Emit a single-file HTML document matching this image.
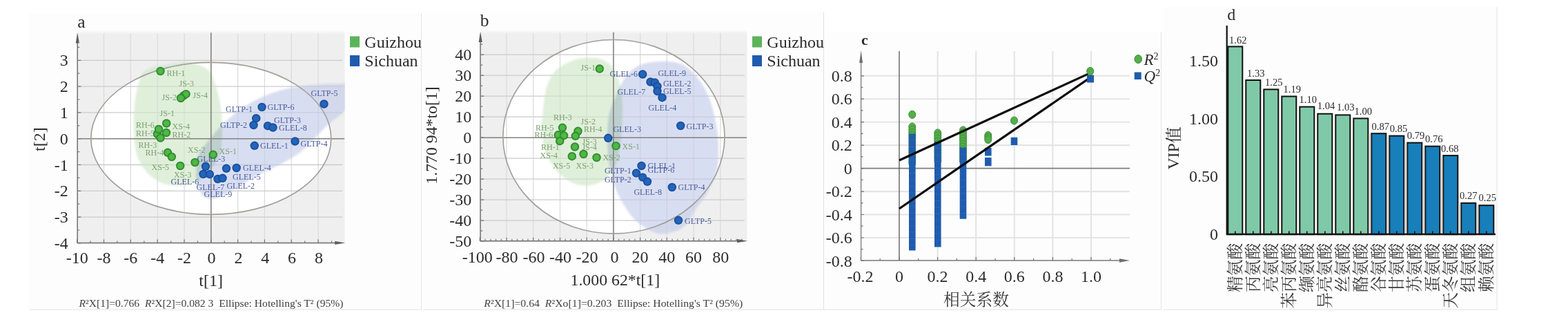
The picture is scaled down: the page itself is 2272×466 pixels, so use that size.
<!DOCTYPE html>
<html><head><meta charset="utf-8"><title>figure</title>
<style>
html,body{margin:0;padding:0;background:#fff;overflow:hidden}
svg{display:block;filter:blur(0.45px)}
text{font-family:"Liberation Serif","Noto Serif CJK SC",serif;fill:#2b2b2b}
.tk{font-size:24px}
.lb{font-size:12px}
.vl{font-size:15px;fill:#444}
.cap{font-size:14.6px;fill:#404040}
.cj{font-size:23.7px;fill:#3a3a3a}
</style></head><body>
<svg width="2272" height="466" viewBox="0 0 2272 466">
<defs>
<filter id="soft" x="-10%" y="-10%" width="120%" height="120%"><feGaussianBlur stdDeviation="1.6"/></filter>
<filter id="b05" x="-5%" y="-5%" width="110%" height="110%"><feGaussianBlur stdDeviation="0.55"/></filter>
<radialGradient id="gd" cx="50%" cy="50%" r="50%"><stop offset="0" stop-color="#55bb4a"/><stop offset="0.6" stop-color="#4db444"/><stop offset="0.8" stop-color="#2f8f2f"/><stop offset="1" stop-color="#2b842c"/></radialGradient>
<radialGradient id="bd" cx="50%" cy="50%" r="50%"><stop offset="0" stop-color="#2567bd"/><stop offset="0.6" stop-color="#2263b8"/><stop offset="0.82" stop-color="#1a4f9f"/><stop offset="1" stop-color="#184a98"/></radialGradient>
<linearGradient id="ft" x1="0" y1="0" x2="0" y2="1"><stop offset="0" stop-color="#fff" stop-opacity="1"/><stop offset="1" stop-color="#fff" stop-opacity="0"/></linearGradient>
<linearGradient id="fr" x1="1" y1="0" x2="0" y2="0"><stop offset="0" stop-color="#fff" stop-opacity="1"/><stop offset="1" stop-color="#fff" stop-opacity="0"/></linearGradient>
</defs>
<rect x="-5" y="-5" width="2282" height="476" fill="#fff"/>
<g fill="#fdfdfd">
<rect x="43" y="19" width="567" height="429"/>
<rect x="613" y="18" width="580.5" height="430"/>
<rect x="1194" y="45.5" width="488.5" height="402.5"/>
<rect x="1686" y="10" width="483" height="438"/>
</g>
<g stroke="#e2e2e2" stroke-width="1" fill="none">
<path d="M43 448H610.5V19"/>
<path d="M613 448H1193.5V18"/>
<path d="M1194 448H1682.5V46"/>
<path d="M1686 448H2169V10"/>
</g>
<g>
<rect x="112.3" y="43.3" width="387.9" height="308.2" fill="#efefef"/>
<ellipse cx="305.8" cy="200.4" rx="174.0" ry="110.0" fill="#fff"/>
<rect x="111.3" y="42.3" width="390.9" height="7.5" fill="url(#ft)"/>
<rect x="498.7" y="42.3" width="2" height="309.2" fill="url(#fr)"/>
<g stroke="#dcdcdc" stroke-width="1.3">
<line x1="111.7" y1="48.3" x2="111.7" y2="351.5"/>
<line x1="150.5" y1="48.3" x2="150.5" y2="351.5"/>
<line x1="189.3" y1="48.3" x2="189.3" y2="351.5"/>
<line x1="228.2" y1="48.3" x2="228.2" y2="351.5"/>
<line x1="267.0" y1="48.3" x2="267.0" y2="351.5"/>
<line x1="344.6" y1="48.3" x2="344.6" y2="351.5"/>
<line x1="383.4" y1="48.3" x2="383.4" y2="351.5"/>
<line x1="422.3" y1="48.3" x2="422.3" y2="351.5"/>
<line x1="461.1" y1="48.3" x2="461.1" y2="351.5"/>
<line x1="112.3" y1="351.9" x2="496.2" y2="351.9" stroke="#cbcbcb"/>
<line x1="112.3" y1="314.1" x2="496.2" y2="314.1" stroke="#cbcbcb"/>
<line x1="112.3" y1="276.3" x2="496.2" y2="276.3" stroke="#cbcbcb"/>
<line x1="112.3" y1="238.5" x2="496.2" y2="238.5" stroke="#cbcbcb"/>
<line x1="112.3" y1="162.9" x2="496.2" y2="162.9" stroke="#cbcbcb"/>
<line x1="112.3" y1="125.1" x2="496.2" y2="125.1" stroke="#cbcbcb"/>
<line x1="112.3" y1="87.3" x2="496.2" y2="87.3" stroke="#cbcbcb"/>
</g>
<clipPath id="cpa"><rect x="112.3" y="43.3" width="387.4" height="308.2"/></clipPath>
<path d="M211.2 101.5C218.1 96.8 231.8 95.0 242.1 93.2C252.4 91.4 263.1 89.3 273.0 90.6C282.9 91.9 294.9 95.8 301.4 100.9C307.8 106.1 308.7 112.9 311.7 121.5C314.7 130.1 317.7 141.2 319.4 152.4C321.1 163.6 322.0 177.3 322.0 188.5C322.0 199.7 321.5 210.8 319.4 219.4C317.2 228.0 314.2 233.1 309.1 240.0C304.0 246.9 296.2 255.9 288.5 260.6C280.8 265.3 271.3 267.5 262.7 268.4C254.1 269.3 245.2 268.8 237.0 265.8C228.8 262.8 220.2 257.2 213.8 250.3C207.4 243.4 201.6 234.9 198.3 224.6C195.0 214.3 194.8 200.5 194.2 188.5C193.6 176.5 193.9 163.6 195.0 152.4C196.1 141.2 197.8 130.0 200.5 121.5C203.2 113.0 204.3 106.2 211.2 101.5Z" fill="#fff" opacity="0.6" filter="url(#soft)" clip-path="url(#cpa)"/>
<path d="M293.6 214.3C299.7 206.7 312.6 189.4 324.6 178.2C336.6 167.0 351.2 155.5 365.8 147.3C380.4 139.1 396.7 133.3 412.1 129.2C427.6 125.1 445.6 123.8 458.5 122.5C471.4 121.2 481.5 121.4 489.4 121.5C497.3 121.6 502.9 118.2 506.0 123.0C509.1 127.8 509.5 143.3 508.0 150.0C506.5 156.7 502.0 158.3 497.0 163.0C492.0 167.7 484.5 172.2 478.0 178.0C471.5 183.8 464.7 191.3 458.0 198.0C451.3 204.7 446.0 211.7 438.0 218.0C430.0 224.3 420.3 230.3 410.0 236.0C399.7 241.7 387.8 245.8 376.1 252.0C364.4 258.2 350.3 267.8 340.0 273.5C329.7 279.2 321.6 284.5 314.3 286.4C307.0 288.3 300.9 288.0 296.2 284.8C291.5 281.6 287.9 274.5 285.9 267.0C283.9 259.5 284.0 247.2 284.4 240.0C284.8 232.8 286.5 228.3 288.0 224.0C289.5 219.7 287.5 221.9 293.6 214.3Z" fill="#fff" opacity="0.6" filter="url(#soft)" clip-path="url(#cpa)"/>
<path d="M211.2 101.5C218.1 96.8 231.8 95.0 242.1 93.2C252.4 91.4 263.1 89.3 273.0 90.6C282.9 91.9 294.9 95.8 301.4 100.9C307.8 106.1 308.7 112.9 311.7 121.5C314.7 130.1 317.7 141.2 319.4 152.4C321.1 163.6 322.0 177.3 322.0 188.5C322.0 199.7 321.5 210.8 319.4 219.4C317.2 228.0 314.2 233.1 309.1 240.0C304.0 246.9 296.2 255.9 288.5 260.6C280.8 265.3 271.3 267.5 262.7 268.4C254.1 269.3 245.2 268.8 237.0 265.8C228.8 262.8 220.2 257.2 213.8 250.3C207.4 243.4 201.6 234.9 198.3 224.6C195.0 214.3 194.8 200.5 194.2 188.5C193.6 176.5 193.9 163.6 195.0 152.4C196.1 141.2 197.8 130.0 200.5 121.5C203.2 113.0 204.3 106.2 211.2 101.5Z" fill="#e0efda" filter="url(#soft)" clip-path="url(#cpa)" style="mix-blend-mode:multiply"/>
<path d="M293.6 214.3C299.7 206.7 312.6 189.4 324.6 178.2C336.6 167.0 351.2 155.5 365.8 147.3C380.4 139.1 396.7 133.3 412.1 129.2C427.6 125.1 445.6 123.8 458.5 122.5C471.4 121.2 481.5 121.4 489.4 121.5C497.3 121.6 502.9 118.2 506.0 123.0C509.1 127.8 509.5 143.3 508.0 150.0C506.5 156.7 502.0 158.3 497.0 163.0C492.0 167.7 484.5 172.2 478.0 178.0C471.5 183.8 464.7 191.3 458.0 198.0C451.3 204.7 446.0 211.7 438.0 218.0C430.0 224.3 420.3 230.3 410.0 236.0C399.7 241.7 387.8 245.8 376.1 252.0C364.4 258.2 350.3 267.8 340.0 273.5C329.7 279.2 321.6 284.5 314.3 286.4C307.0 288.3 300.9 288.0 296.2 284.8C291.5 281.6 287.9 274.5 285.9 267.0C283.9 259.5 284.0 247.2 284.4 240.0C284.8 232.8 286.5 228.3 288.0 224.0C289.5 219.7 287.5 221.9 293.6 214.3Z" fill="#d8def1" filter="url(#soft)" clip-path="url(#cpa)" style="mix-blend-mode:multiply"/>
<line x1="305.8" y1="47.3" x2="305.8" y2="351.5" stroke="#84817f" stroke-width="1.6"/>
<line x1="112.3" y1="200.7" x2="499.2" y2="200.7" stroke="#84817f" stroke-width="1.6"/>
<ellipse cx="305.8" cy="200.4" rx="174.0" ry="110.0" fill="none" stroke="#a39f9c" stroke-width="1.7"/>
<g stroke="#747474" stroke-width="1.4" fill="none">
<path d="M112.3 57.5V351.5H492.2"/>
<path d="M111.7 351.5v-5M150.5 351.5v-5M189.3 351.5v-5M228.2 351.5v-5M267.0 351.5v-5M305.8 351.5v-5M344.6 351.5v-5M383.4 351.5v-5M422.3 351.5v-5M461.1 351.5v-5M131.1 351.5v-3M169.9 351.5v-3M208.8 351.5v-3M247.6 351.5v-3M286.4 351.5v-3M325.2 351.5v-3M364.0 351.5v-3M402.9 351.5v-3M441.7 351.5v-3M480.5 351.5v-3M112.3 351.9h5M112.3 314.1h5M112.3 276.3h5M112.3 238.5h5M112.3 200.7h5M112.3 162.9h5M112.3 125.1h5M112.3 87.3h5M112.3 333.0h3M112.3 295.2h3M112.3 257.4h3M112.3 219.6h3M112.3 181.8h3M112.3 144.0h3M112.3 106.2h3M112.3 68.4h3" stroke-width="1.2"/>
</g>
<path d="M112.3 47.5l-2.6 15h5.2z" fill="#5e5e5e"/>
<path d="M500.2 351.5l-15 -2.6v5.2z" fill="#5e5e5e"/>
<g class="lb" filter="url(#b05)">
<text x="241.6" y="110.0" style="fill:#7da271">RH-1</text>
<text x="259.6" y="125.2" style="fill:#7da271">JS-3</text>
<text x="234.6" y="145.2" style="fill:#7da271">JS-2</text>
<text x="279.6" y="141.5" style="fill:#7da271">JS-4</text>
<text x="231.6" y="167.8" style="fill:#7da271">JS-1</text>
<text x="197.1" y="185.0" style="fill:#7da271">RH-6</text>
<text x="249.6" y="187.0" style="fill:#7da271">XS-4</text>
<text x="197.1" y="197.0" style="fill:#7da271">RH-5</text>
<text x="249.6" y="198.5" style="fill:#7da271">RH-2</text>
<text x="200.6" y="213.5" style="fill:#7da271">RH-3</text>
<text x="210.6" y="225.0" style="fill:#7da271">RH-4</text>
<text x="272.1" y="221.0" style="fill:#7da271">XS-2</text>
<text x="317.6" y="222.8" style="fill:#7da271">XS-1</text>
<text x="219.6" y="246.0" style="fill:#7da271">XS-5</text>
<text x="252.1" y="256.5" style="fill:#7da271">XS-3</text>
<text x="285.6" y="233.5" style="fill:#4a5b9e">GLEL-3</text>
<text x="247.6" y="266.5" style="fill:#4a5b9e">GLEL-6</text>
<text x="327.1" y="162.0" style="fill:#4a5b9e">GLTP-1</text>
<text x="387.6" y="159.0" style="fill:#4a5b9e">GLTP-6</text>
<text x="397.1" y="177.8" style="fill:#4a5b9e">GLTP-3</text>
<text x="319.1" y="184.5" style="fill:#4a5b9e">GLTP-2</text>
<text x="404.1" y="188.5" style="fill:#4a5b9e">GLEL-8</text>
<text x="377.1" y="214.8" style="fill:#4a5b9e">GLEL-1</text>
<text x="435.6" y="211.5" style="fill:#4a5b9e">GLTP-4</text>
<text x="352.1" y="247.0" style="fill:#4a5b9e">GLEL-4</text>
<text x="337.1" y="259.5" style="fill:#4a5b9e">GLEL-5</text>
<text x="450.6" y="139.0" style="fill:#4a5b9e">GLTP-5</text>
<text x="284.6" y="275.0" style="fill:#4a5b9e">GLEL-7</text>
<text x="328.4" y="272.8" style="fill:#4a5b9e">GLEL-2</text>
<text x="295.6" y="285.0" style="fill:#4a5b9e">GLEL-9</text>
</g>
<circle cx="232.5" cy="103.0" r="6.2" fill="url(#gd)"/>
<circle cx="266.0" cy="138.5" r="6.2" fill="url(#gd)"/>
<circle cx="269.5" cy="136.2" r="6.2" fill="url(#gd)"/>
<circle cx="262.0" cy="142.0" r="6.2" fill="url(#gd)"/>
<circle cx="241.2" cy="178.5" r="6.2" fill="url(#gd)"/>
<circle cx="228.0" cy="194.0" r="6.2" fill="url(#gd)"/>
<circle cx="230.0" cy="187.0" r="6.2" fill="url(#gd)"/>
<circle cx="241.0" cy="192.0" r="6.2" fill="url(#gd)"/>
<circle cx="232.5" cy="199.5" r="6.2" fill="url(#gd)"/>
<circle cx="243.0" cy="220.8" r="6.2" fill="url(#gd)"/>
<circle cx="248.8" cy="227.0" r="6.2" fill="url(#gd)"/>
<circle cx="261.2" cy="240.0" r="6.2" fill="url(#gd)"/>
<circle cx="282.5" cy="235.0" r="6.2" fill="url(#gd)"/>
<circle cx="308.8" cy="223.8" r="6.2" fill="url(#gd)"/>
<circle cx="379.5" cy="155.0" r="6.2" fill="url(#bd)"/>
<circle cx="469.5" cy="150.5" r="6.2" fill="url(#bd)"/>
<circle cx="371.2" cy="171.2" r="6.2" fill="url(#bd)"/>
<circle cx="367.5" cy="181.0" r="6.2" fill="url(#bd)"/>
<circle cx="388.0" cy="182.2" r="6.2" fill="url(#bd)"/>
<circle cx="395.5" cy="184.5" r="6.2" fill="url(#bd)"/>
<circle cx="368.8" cy="210.8" r="6.2" fill="url(#bd)"/>
<circle cx="427.5" cy="204.5" r="6.2" fill="url(#bd)"/>
<circle cx="298.0" cy="240.8" r="6.2" fill="url(#bd)"/>
<circle cx="328.0" cy="243.8" r="6.2" fill="url(#bd)"/>
<circle cx="342.7" cy="243.0" r="6.2" fill="url(#bd)"/>
<circle cx="294.5" cy="252.0" r="6.2" fill="url(#bd)"/>
<circle cx="303.8" cy="252.2" r="6.2" fill="url(#bd)"/>
<circle cx="315.5" cy="259.0" r="6.2" fill="url(#bd)"/>
<circle cx="322.5" cy="257.8" r="6.2" fill="url(#bd)"/>
<g class="tk">
<text x="111.7" y="380.5" text-anchor="middle">-10</text>
<text x="150.5" y="380.5" text-anchor="middle">-8</text>
<text x="189.3" y="380.5" text-anchor="middle">-6</text>
<text x="228.2" y="380.5" text-anchor="middle">-4</text>
<text x="267.0" y="380.5" text-anchor="middle">-2</text>
<text x="306.6" y="380.5" text-anchor="middle">0</text>
<text x="345.4" y="380.5" text-anchor="middle">2</text>
<text x="384.2" y="380.5" text-anchor="middle">4</text>
<text x="423.1" y="380.5" text-anchor="middle">6</text>
<text x="461.9" y="380.5" text-anchor="middle">8</text>
<text x="98.8" y="360.0" text-anchor="end">-4</text>
<text x="98.8" y="322.2" text-anchor="end">-3</text>
<text x="98.8" y="284.4" text-anchor="end">-2</text>
<text x="98.8" y="246.6" text-anchor="end">-1</text>
<text x="98.8" y="208.8" text-anchor="end">0</text>
<text x="98.8" y="171.0" text-anchor="end">1</text>
<text x="98.8" y="133.2" text-anchor="end">2</text>
<text x="98.8" y="95.4" text-anchor="end">3</text>
</g>
</g>
<text x="112.3" y="39.5" style="font-size:25.5px">a</text>
<text x="305.6" y="413.5" text-anchor="middle" style="font-size:24px">t[1]</text>
<text transform="translate(64.5 201.6) rotate(-90)" text-anchor="middle" style="font-size:24px">t[2]</text>
<text class="cap" x="114.5" y="443.8" textLength="383" lengthAdjust="spacingAndGlyphs"><tspan font-style="italic">R</tspan>²X[1]=0.766&#160;&#160;<tspan font-style="italic">R</tspan>²X[2]=0.082 3&#160;&#160;Ellipse: Hotelling's T² (95%)</text>
<clipPath id="ca"><rect x="0" y="0" width="610.3" height="466"/></clipPath><g clip-path="url(#ca)">
<rect x="507.0" y="52.5" width="14" height="16" fill="#5cb45a"/>
<rect x="507.0" y="80" width="14" height="16" fill="#1f5cae"/>
<text x="528.3" y="68.5" style="font-size:24px">Guizhou</text>
<text x="528.3" y="96" style="font-size:24px">Sichuan</text>
</g>
<g>
<rect x="696.2" y="42.8" width="386.8" height="305.9" fill="#efefef"/>
<ellipse cx="889.4" cy="197.8" rx="160.6" ry="140.3" fill="#fff"/>
<rect x="695.2" y="41.8" width="389.8" height="7.5" fill="url(#ft)"/>
<rect x="1081.5" y="41.8" width="2" height="306.9" fill="url(#fr)"/>
<g stroke="#dcdcdc" stroke-width="1.3">
<line x1="695.3" y1="47.8" x2="695.3" y2="348.7"/>
<line x1="734.0" y1="47.8" x2="734.0" y2="348.7"/>
<line x1="772.7" y1="47.8" x2="772.7" y2="348.7"/>
<line x1="811.5" y1="47.8" x2="811.5" y2="348.7"/>
<line x1="850.2" y1="47.8" x2="850.2" y2="348.7"/>
<line x1="927.6" y1="47.8" x2="927.6" y2="348.7"/>
<line x1="966.3" y1="47.8" x2="966.3" y2="348.7"/>
<line x1="1005.1" y1="47.8" x2="1005.1" y2="348.7"/>
<line x1="1043.8" y1="47.8" x2="1043.8" y2="348.7"/>
<line x1="696.2" y1="349.2" x2="1079.0" y2="349.2" stroke="#cbcbcb"/>
<line x1="696.2" y1="319.2" x2="1079.0" y2="319.2" stroke="#cbcbcb"/>
<line x1="696.2" y1="289.2" x2="1079.0" y2="289.2" stroke="#cbcbcb"/>
<line x1="696.2" y1="259.2" x2="1079.0" y2="259.2" stroke="#cbcbcb"/>
<line x1="696.2" y1="229.2" x2="1079.0" y2="229.2" stroke="#cbcbcb"/>
<line x1="696.2" y1="169.2" x2="1079.0" y2="169.2" stroke="#cbcbcb"/>
<line x1="696.2" y1="139.2" x2="1079.0" y2="139.2" stroke="#cbcbcb"/>
<line x1="696.2" y1="109.2" x2="1079.0" y2="109.2" stroke="#cbcbcb"/>
<line x1="696.2" y1="79.2" x2="1079.0" y2="79.2" stroke="#cbcbcb"/>
</g>
<clipPath id="cpb"><rect x="696.2" y="42.8" width="386.3" height="305.9"/></clipPath>
<path d="M853.3 83.6C860.6 83.3 866.3 83.8 872.0 86.1C877.7 88.4 883.2 91.3 887.6 97.3C892.0 103.3 895.7 112.9 898.1 122.2C900.5 131.5 901.6 140.9 901.9 153.3C902.2 165.8 901.4 183.4 900.0 196.9C898.6 210.4 897.4 224.0 893.8 234.2C890.2 244.4 885.0 252.2 878.2 257.9C871.5 263.6 861.6 267.5 853.3 268.5C845.0 269.5 836.2 267.7 828.4 264.1C820.6 260.5 812.9 253.8 806.7 246.7C800.5 239.6 794.7 231.1 791.1 221.8C787.5 212.5 785.7 201.1 785.0 190.7C784.3 180.3 785.9 170.0 787.0 159.6C788.1 149.2 788.7 137.8 791.5 128.5C794.3 119.2 797.9 110.3 804.0 103.6C810.1 96.8 820.2 91.3 828.4 88.0C836.6 84.7 846.0 83.9 853.3 83.6Z" fill="#fff" opacity="0.6" filter="url(#soft)" clip-path="url(#cpb)"/>
<path d="M933.7 92.0C944.7 88.9 964.0 88.0 975.0 89.5C986.0 91.0 991.8 93.8 1000.0 101.0C1008.2 108.2 1017.8 120.5 1024.0 133.0C1030.2 145.5 1034.2 163.2 1037.0 176.0C1039.8 188.8 1040.7 198.5 1041.0 210.0C1041.3 221.5 1041.5 233.8 1039.0 245.0C1036.5 256.2 1030.8 267.8 1026.0 277.0C1021.2 286.2 1015.7 291.7 1010.0 300.0C1004.3 308.3 998.3 320.9 992.0 327.0C985.7 333.1 979.0 334.8 972.0 336.5C965.0 338.2 958.3 339.8 950.0 337.0C941.7 334.2 929.8 327.0 922.0 320.0C914.2 313.0 908.2 303.3 903.0 295.0C897.8 286.7 894.3 279.2 891.0 270.0C887.7 260.8 884.8 251.7 883.0 240.0C881.2 228.3 880.0 212.5 880.0 200.0C880.0 187.5 880.8 175.3 883.0 165.0C885.2 154.7 888.7 147.5 893.0 138.0C897.3 128.5 902.2 115.7 909.0 108.0C915.8 100.3 922.7 95.1 933.7 92.0Z" fill="#fff" opacity="0.6" filter="url(#soft)" clip-path="url(#cpb)"/>
<path d="M853.3 83.6C860.6 83.3 866.3 83.8 872.0 86.1C877.7 88.4 883.2 91.3 887.6 97.3C892.0 103.3 895.7 112.9 898.1 122.2C900.5 131.5 901.6 140.9 901.9 153.3C902.2 165.8 901.4 183.4 900.0 196.9C898.6 210.4 897.4 224.0 893.8 234.2C890.2 244.4 885.0 252.2 878.2 257.9C871.5 263.6 861.6 267.5 853.3 268.5C845.0 269.5 836.2 267.7 828.4 264.1C820.6 260.5 812.9 253.8 806.7 246.7C800.5 239.6 794.7 231.1 791.1 221.8C787.5 212.5 785.7 201.1 785.0 190.7C784.3 180.3 785.9 170.0 787.0 159.6C788.1 149.2 788.7 137.8 791.5 128.5C794.3 119.2 797.9 110.3 804.0 103.6C810.1 96.8 820.2 91.3 828.4 88.0C836.6 84.7 846.0 83.9 853.3 83.6Z" fill="#e0efda" filter="url(#soft)" clip-path="url(#cpb)" style="mix-blend-mode:multiply"/>
<path d="M933.7 92.0C944.7 88.9 964.0 88.0 975.0 89.5C986.0 91.0 991.8 93.8 1000.0 101.0C1008.2 108.2 1017.8 120.5 1024.0 133.0C1030.2 145.5 1034.2 163.2 1037.0 176.0C1039.8 188.8 1040.7 198.5 1041.0 210.0C1041.3 221.5 1041.5 233.8 1039.0 245.0C1036.5 256.2 1030.8 267.8 1026.0 277.0C1021.2 286.2 1015.7 291.7 1010.0 300.0C1004.3 308.3 998.3 320.9 992.0 327.0C985.7 333.1 979.0 334.8 972.0 336.5C965.0 338.2 958.3 339.8 950.0 337.0C941.7 334.2 929.8 327.0 922.0 320.0C914.2 313.0 908.2 303.3 903.0 295.0C897.8 286.7 894.3 279.2 891.0 270.0C887.7 260.8 884.8 251.7 883.0 240.0C881.2 228.3 880.0 212.5 880.0 200.0C880.0 187.5 880.8 175.3 883.0 165.0C885.2 154.7 888.7 147.5 893.0 138.0C897.3 128.5 902.2 115.7 909.0 108.0C915.8 100.3 922.7 95.1 933.7 92.0Z" fill="#d8def1" filter="url(#soft)" clip-path="url(#cpb)" style="mix-blend-mode:multiply"/>
<line x1="888.9" y1="46.8" x2="888.9" y2="348.7" stroke="#84817f" stroke-width="1.6"/>
<line x1="696.2" y1="199.2" x2="1082.0" y2="199.2" stroke="#84817f" stroke-width="1.6"/>
<ellipse cx="889.4" cy="197.8" rx="160.6" ry="140.3" fill="none" stroke="#a39f9c" stroke-width="1.7"/>
<g stroke="#747474" stroke-width="1.4" fill="none">
<path d="M696.2 56.0V348.7H1075.0"/>
<path d="M695.3 348.7v-5M734.0 348.7v-5M772.7 348.7v-5M811.5 348.7v-5M850.2 348.7v-5M888.9 348.7v-5M927.6 348.7v-5M966.3 348.7v-5M1005.1 348.7v-5M1043.8 348.7v-5M703.0 348.7v-3M710.8 348.7v-3M718.5 348.7v-3M726.3 348.7v-3M741.8 348.7v-3M749.5 348.7v-3M757.3 348.7v-3M765.0 348.7v-3M780.5 348.7v-3M788.2 348.7v-3M796.0 348.7v-3M803.7 348.7v-3M819.2 348.7v-3M826.9 348.7v-3M834.7 348.7v-3M842.4 348.7v-3M857.9 348.7v-3M865.7 348.7v-3M873.4 348.7v-3M881.2 348.7v-3M896.6 348.7v-3M904.4 348.7v-3M912.1 348.7v-3M919.9 348.7v-3M935.4 348.7v-3M943.1 348.7v-3M950.9 348.7v-3M958.6 348.7v-3M974.1 348.7v-3M981.8 348.7v-3M989.6 348.7v-3M997.3 348.7v-3M1012.8 348.7v-3M1020.5 348.7v-3M1028.3 348.7v-3M1036.0 348.7v-3M1051.5 348.7v-3M1059.3 348.7v-3M1067.0 348.7v-3M1074.8 348.7v-3M696.2 349.2h5M696.2 319.2h5M696.2 289.2h5M696.2 259.2h5M696.2 229.2h5M696.2 199.2h5M696.2 169.2h5M696.2 139.2h5M696.2 109.2h5M696.2 79.2h5M696.2 334.2h3M696.2 304.2h3M696.2 274.2h3M696.2 244.2h3M696.2 214.2h3M696.2 184.2h3M696.2 154.2h3M696.2 124.2h3M696.2 94.2h3M696.2 64.2h3" stroke-width="1.2"/>
</g>
<path d="M696.2 46.0l-2.6 15h5.2z" fill="#5e5e5e"/>
<path d="M1083.0 348.7l-15 -2.6v5.2z" fill="#5e5e5e"/>
<g class="lb" filter="url(#b05)">
<text x="841.6" y="102.0" style="fill:#7da271">JS-1</text>
<text x="802.1" y="174.0" style="fill:#7da271">RH-3</text>
<text x="841.6" y="180.2" style="fill:#7da271">JS-2</text>
<text x="775.9" y="189.0" style="fill:#7da271">RH-5</text>
<text x="845.9" y="191.0" style="fill:#7da271">RH-4</text>
<text x="774.6" y="198.5" style="fill:#7da271">RH-6</text>
<text x="784.1" y="217.0" style="fill:#7da271">RH-1</text>
<text x="782.6" y="228.5" style="fill:#7da271">XS-4</text>
<text x="800.9" y="244.0" style="fill:#7da271">XS-5</text>
<text x="834.6" y="243.5" style="fill:#7da271">XS-3</text>
<text x="873.4" y="232.0" style="fill:#7da271">XS-2</text>
<text x="901.6" y="216.0" style="fill:#7da271">XS-1</text>
<text x="843.4" y="209.0" style="fill:#7da271">JS-3</text>
<text x="843.4" y="217.0" style="fill:#7da271">JS-4</text>
<text x="883.4" y="111.0" style="fill:#4a5b9e">GLEL-6</text>
<text x="953.4" y="109.5" style="fill:#4a5b9e">GLEL-9</text>
<text x="960.9" y="125.0" style="fill:#4a5b9e">GLEL-2</text>
<text x="894.6" y="136.5" style="fill:#4a5b9e">GLEL-7</text>
<text x="960.9" y="136.0" style="fill:#4a5b9e">GLEL-5</text>
<text x="939.6" y="160.2" style="fill:#4a5b9e">GLEL-4</text>
<text x="994.6" y="186.5" style="fill:#4a5b9e">GLTP-3</text>
<text x="888.4" y="191.0" style="fill:#4a5b9e">GLEL-3</text>
<text x="938.4" y="243.5" style="fill:#4a5b9e">GLEL-1</text>
<text x="938.4" y="250.2" style="fill:#4a5b9e">GLTP-6</text>
<text x="875.9" y="251.0" style="fill:#4a5b9e">GLTP-1</text>
<text x="875.9" y="264.0" style="fill:#4a5b9e">GLTP-2</text>
<text x="982.6" y="275.0" style="fill:#4a5b9e">GLTP-4</text>
<text x="918.4" y="282.0" style="fill:#4a5b9e">GLEL-8</text>
<text x="992.1" y="323.5" style="fill:#4a5b9e">GLTP-5</text>
</g>
<circle cx="868.8" cy="99.5" r="6.2" fill="url(#gd)"/>
<circle cx="815.0" cy="184.8" r="6.2" fill="url(#gd)"/>
<circle cx="837.5" cy="189.8" r="6.2" fill="url(#gd)"/>
<circle cx="808.8" cy="195.3" r="6.2" fill="url(#gd)"/>
<circle cx="817.0" cy="196.2" r="6.2" fill="url(#gd)"/>
<circle cx="833.8" cy="196.8" r="6.2" fill="url(#gd)"/>
<circle cx="811.2" cy="204.2" r="6.2" fill="url(#gd)"/>
<circle cx="833.0" cy="212.5" r="6.2" fill="url(#gd)"/>
<circle cx="845.5" cy="223.0" r="6.2" fill="url(#gd)"/>
<circle cx="828.8" cy="226.2" r="6.2" fill="url(#gd)"/>
<circle cx="864.5" cy="228.0" r="6.2" fill="url(#gd)"/>
<circle cx="892.5" cy="211.2" r="6.2" fill="url(#gd)"/>
<circle cx="931.2" cy="107.5" r="6.2" fill="url(#bd)"/>
<circle cx="942.5" cy="118.5" r="6.2" fill="url(#bd)"/>
<circle cx="948.8" cy="119.5" r="6.2" fill="url(#bd)"/>
<circle cx="952.5" cy="125.0" r="6.2" fill="url(#bd)"/>
<circle cx="952.5" cy="132.0" r="6.2" fill="url(#bd)"/>
<circle cx="959.5" cy="141.2" r="6.2" fill="url(#bd)"/>
<circle cx="986.2" cy="182.0" r="6.2" fill="url(#bd)"/>
<circle cx="881.2" cy="199.8" r="6.2" fill="url(#bd)"/>
<circle cx="929.5" cy="240.0" r="6.2" fill="url(#bd)"/>
<circle cx="922.0" cy="250.5" r="6.2" fill="url(#bd)"/>
<circle cx="931.2" cy="256.6" r="6.2" fill="url(#bd)"/>
<circle cx="938.0" cy="262.8" r="6.2" fill="url(#bd)"/>
<circle cx="973.8" cy="271.0" r="6.2" fill="url(#bd)"/>
<circle cx="983.0" cy="318.8" r="6.2" fill="url(#bd)"/>
<g class="tk">
<text x="691.8" y="380.0" text-anchor="middle">-100</text>
<text x="734.4" y="380.0" text-anchor="middle">-80</text>
<text x="773.5" y="380.0" text-anchor="middle">-60</text>
<text x="812.0" y="380.0" text-anchor="middle">-40</text>
<text x="850.6" y="380.0" text-anchor="middle">-20</text>
<text x="890.4" y="380.0" text-anchor="middle">0</text>
<text x="927.6" y="380.0" text-anchor="middle">20</text>
<text x="966.3" y="380.0" text-anchor="middle">40</text>
<text x="1005.1" y="380.0" text-anchor="middle">60</text>
<text x="1044.3" y="380.0" text-anchor="middle">80</text>
<text x="683.2" y="356.6" text-anchor="end">-50</text>
<text x="683.2" y="326.6" text-anchor="end">-40</text>
<text x="683.2" y="296.6" text-anchor="end">-30</text>
<text x="683.2" y="266.6" text-anchor="end">-20</text>
<text x="683.2" y="236.6" text-anchor="end">-10</text>
<text x="683.2" y="206.6" text-anchor="end">0</text>
<text x="683.2" y="176.6" text-anchor="end">10</text>
<text x="683.2" y="146.6" text-anchor="end">20</text>
<text x="683.2" y="116.6" text-anchor="end">30</text>
<text x="683.2" y="86.6" text-anchor="end">40</text>
</g>
</g>
<text x="695.8" y="37.8" style="font-size:25.5px">b</text>
<text x="891.3" y="412.5" text-anchor="middle" style="font-size:23.8px">1.000 62*t[1]</text>
<text transform="translate(633 196) rotate(-90)" text-anchor="middle" style="font-size:23.8px">1.770 94*to[1]</text>
<text class="cap" x="701.3" y="443.8" textLength="375" lengthAdjust="spacingAndGlyphs"><tspan font-style="italic">R</tspan>²X[1]=0.64&#160;&#160;<tspan font-style="italic">R</tspan>²Xo[1]=0.203&#160;&#160;Ellipse: Hotelling's T² (95%)</text>
<rect x="1090.0" y="52.5" width="14" height="16" fill="#5cb45a"/>
<rect x="1090.0" y="80" width="14" height="16" fill="#1f5cae"/>
<text x="1111.3" y="68.5" style="font-size:24px">Guizhou</text>
<text x="1111.3" y="96" style="font-size:24px">Sichuan</text>
<g>
<g stroke="#e4e4e4" stroke-width="2.1">
<line x1="1358.6" y1="74" x2="1358.6" y2="377"/>
<line x1="1414.2" y1="74" x2="1414.2" y2="377"/>
<line x1="1469.8" y1="74" x2="1469.8" y2="377"/>
<line x1="1525.4" y1="74" x2="1525.4" y2="377"/>
<line x1="1581.0" y1="74" x2="1581.0" y2="377"/>
<line x1="1248" y1="344.0" x2="1637" y2="344.0"/>
<line x1="1248" y1="310.5" x2="1637" y2="310.5"/>
<line x1="1248" y1="277.1" x2="1637" y2="277.1"/>
<line x1="1248" y1="210.1" x2="1637" y2="210.1"/>
<line x1="1248" y1="176.7" x2="1637" y2="176.7"/>
<line x1="1248" y1="143.2" x2="1637" y2="143.2"/>
<line x1="1248" y1="109.8" x2="1637" y2="109.8"/>
</g>
<line x1="1248" y1="243.6" x2="1637" y2="243.6" stroke="#807d7b" stroke-width="1.7"/>
<line x1="1303" y1="74" x2="1303" y2="377" stroke="#555" stroke-width="1.3"/>
<path d="M1247.6 88V377H1626" stroke="#777" stroke-width="1.3" fill="none"/>
<path d="M1247.4 377v-5M1275.2 377v-3M1303.0 377v-5M1330.8 377v-3M1358.6 377v-5M1386.4 377v-3M1414.2 377v-5M1442.0 377v-3M1469.8 377v-5M1497.6 377v-3M1525.4 377v-5M1553.2 377v-3M1581.0 377v-5M1608.8 377v-3M1248 377.4h4M1248 360.7h2.5M1248 344.0h4M1248 327.2h2.5M1248 310.5h4M1248 293.8h2.5M1248 277.1h4M1248 260.3h2.5M1248 243.6h4M1248 226.9h2.5M1248 210.1h4M1248 193.4h2.5M1248 176.7h4M1248 159.9h2.5M1248 143.2h4M1248 126.5h2.5M1248 109.8h4" stroke="#747474" stroke-width="1.2" fill="none"/>
<path d="M1247.6 73l-2.4 18h4.8z" fill="#6e6e6e"/>
<path d="M1637 377l-15 -2.8v5.6z" fill="#6e6e6e"/>
<ellipse cx="1321.8" cy="165.8" rx="5" ry="5.6" fill="#55ad4a" stroke="#3b8f38" stroke-width="1"/>
<ellipse cx="1321.8" cy="183.5" rx="5" ry="5.6" fill="#55ad4a" stroke="#3b8f38" stroke-width="1"/>
<ellipse cx="1321.8" cy="188.0" rx="5" ry="5.6" fill="#55ad4a" stroke="#3b8f38" stroke-width="1"/>
<ellipse cx="1321.8" cy="192.0" rx="5" ry="5.6" fill="#55ad4a" stroke="#3b8f38" stroke-width="1"/>
<ellipse cx="1321.8" cy="196.0" rx="5" ry="5.6" fill="#55ad4a" stroke="#3b8f38" stroke-width="1"/>
<ellipse cx="1321.8" cy="200.0" rx="5" ry="5.6" fill="#55ad4a" stroke="#3b8f38" stroke-width="1"/>
<ellipse cx="1321.8" cy="204.0" rx="5" ry="5.6" fill="#55ad4a" stroke="#3b8f38" stroke-width="1"/>
<ellipse cx="1321.8" cy="208.0" rx="5" ry="5.6" fill="#55ad4a" stroke="#3b8f38" stroke-width="1"/>
<ellipse cx="1321.8" cy="212.0" rx="5" ry="5.6" fill="#55ad4a" stroke="#3b8f38" stroke-width="1"/>
<ellipse cx="1321.8" cy="216.0" rx="5" ry="5.6" fill="#55ad4a" stroke="#3b8f38" stroke-width="1"/>
<ellipse cx="1321.8" cy="220.0" rx="5" ry="5.6" fill="#55ad4a" stroke="#3b8f38" stroke-width="1"/>
<ellipse cx="1321.8" cy="224.0" rx="5" ry="5.6" fill="#55ad4a" stroke="#3b8f38" stroke-width="1"/>
<ellipse cx="1321.8" cy="228.0" rx="5" ry="5.6" fill="#55ad4a" stroke="#3b8f38" stroke-width="1"/>
<ellipse cx="1321.8" cy="232.0" rx="5" ry="5.6" fill="#55ad4a" stroke="#3b8f38" stroke-width="1"/>
<ellipse cx="1321.8" cy="236.0" rx="5" ry="5.6" fill="#55ad4a" stroke="#3b8f38" stroke-width="1"/>
<ellipse cx="1358.8" cy="192.5" rx="5" ry="5.6" fill="#55ad4a" stroke="#3b8f38" stroke-width="1"/>
<ellipse cx="1358.8" cy="196.5" rx="5" ry="5.6" fill="#55ad4a" stroke="#3b8f38" stroke-width="1"/>
<ellipse cx="1358.8" cy="200.5" rx="5" ry="5.6" fill="#55ad4a" stroke="#3b8f38" stroke-width="1"/>
<ellipse cx="1358.8" cy="204.5" rx="5" ry="5.6" fill="#55ad4a" stroke="#3b8f38" stroke-width="1"/>
<ellipse cx="1358.8" cy="208.5" rx="5" ry="5.6" fill="#55ad4a" stroke="#3b8f38" stroke-width="1"/>
<ellipse cx="1358.8" cy="212.5" rx="5" ry="5.6" fill="#55ad4a" stroke="#3b8f38" stroke-width="1"/>
<ellipse cx="1358.8" cy="216.5" rx="5" ry="5.6" fill="#55ad4a" stroke="#3b8f38" stroke-width="1"/>
<ellipse cx="1358.8" cy="220.5" rx="5" ry="5.6" fill="#55ad4a" stroke="#3b8f38" stroke-width="1"/>
<ellipse cx="1358.8" cy="224.5" rx="5" ry="5.6" fill="#55ad4a" stroke="#3b8f38" stroke-width="1"/>
<ellipse cx="1358.8" cy="228.5" rx="5" ry="5.6" fill="#55ad4a" stroke="#3b8f38" stroke-width="1"/>
<ellipse cx="1358.8" cy="232.5" rx="5" ry="5.6" fill="#55ad4a" stroke="#3b8f38" stroke-width="1"/>
<ellipse cx="1395.5" cy="188.5" rx="5" ry="5.6" fill="#55ad4a" stroke="#3b8f38" stroke-width="1"/>
<ellipse cx="1395.5" cy="192.5" rx="5" ry="5.6" fill="#55ad4a" stroke="#3b8f38" stroke-width="1"/>
<ellipse cx="1395.5" cy="196.5" rx="5" ry="5.6" fill="#55ad4a" stroke="#3b8f38" stroke-width="1"/>
<ellipse cx="1395.5" cy="200.5" rx="5" ry="5.6" fill="#55ad4a" stroke="#3b8f38" stroke-width="1"/>
<ellipse cx="1395.5" cy="204.5" rx="5" ry="5.6" fill="#55ad4a" stroke="#3b8f38" stroke-width="1"/>
<ellipse cx="1395.5" cy="208.5" rx="5" ry="5.6" fill="#55ad4a" stroke="#3b8f38" stroke-width="1"/>
<ellipse cx="1395.5" cy="212.5" rx="5" ry="5.6" fill="#55ad4a" stroke="#3b8f38" stroke-width="1"/>
<ellipse cx="1395.5" cy="216.5" rx="5" ry="5.6" fill="#55ad4a" stroke="#3b8f38" stroke-width="1"/>
<ellipse cx="1395.5" cy="220.5" rx="5" ry="5.6" fill="#55ad4a" stroke="#3b8f38" stroke-width="1"/>
<ellipse cx="1395.5" cy="224.5" rx="5" ry="5.6" fill="#55ad4a" stroke="#3b8f38" stroke-width="1"/>
<ellipse cx="1395.5" cy="228.5" rx="5" ry="5.6" fill="#55ad4a" stroke="#3b8f38" stroke-width="1"/>
<ellipse cx="1395.5" cy="232.5" rx="5" ry="5.6" fill="#55ad4a" stroke="#3b8f38" stroke-width="1"/>
<ellipse cx="1431.8" cy="196.0" rx="5" ry="5.6" fill="#55ad4a" stroke="#3b8f38" stroke-width="1"/>
<ellipse cx="1431.8" cy="199.0" rx="5" ry="5.6" fill="#55ad4a" stroke="#3b8f38" stroke-width="1"/>
<ellipse cx="1431.8" cy="202.0" rx="5" ry="5.6" fill="#55ad4a" stroke="#3b8f38" stroke-width="1"/>
<ellipse cx="1469.5" cy="174.5" rx="5" ry="5.6" fill="#55ad4a" stroke="#3b8f38" stroke-width="1"/>
<rect x="1317.0" y="193.5" width="9.6" height="169.0" fill="#1f5cae"/>
<rect x="1354.0" y="205.0" width="9.6" height="152.5" fill="#1f5cae"/>
<rect x="1390.7" y="213.5" width="9.6" height="103.3" fill="#1f5cae"/>
<rect x="1427.0" y="213.8" width="9.6" height="11.7" fill="#1f5cae"/>
<rect x="1427.0" y="228.0" width="9.6" height="12.3" fill="#1f5cae"/>
<rect x="1464.7" y="198.8" width="9.6" height="11.2" fill="#1f5cae"/>
<g stroke="#3f74bd" stroke-width="0.7" opacity="0.6">
<line x1="1317.0" y1="203.0" x2="1326.6" y2="203.0"/>
<line x1="1317.0" y1="212.5" x2="1326.6" y2="212.5"/>
<line x1="1317.0" y1="222.0" x2="1326.6" y2="222.0"/>
<line x1="1317.0" y1="231.5" x2="1326.6" y2="231.5"/>
<line x1="1317.0" y1="241.0" x2="1326.6" y2="241.0"/>
<line x1="1317.0" y1="250.5" x2="1326.6" y2="250.5"/>
<line x1="1317.0" y1="260.0" x2="1326.6" y2="260.0"/>
<line x1="1317.0" y1="269.5" x2="1326.6" y2="269.5"/>
<line x1="1317.0" y1="279.0" x2="1326.6" y2="279.0"/>
<line x1="1317.0" y1="288.5" x2="1326.6" y2="288.5"/>
<line x1="1317.0" y1="298.0" x2="1326.6" y2="298.0"/>
<line x1="1317.0" y1="307.5" x2="1326.6" y2="307.5"/>
<line x1="1317.0" y1="317.0" x2="1326.6" y2="317.0"/>
<line x1="1317.0" y1="326.5" x2="1326.6" y2="326.5"/>
<line x1="1317.0" y1="336.0" x2="1326.6" y2="336.0"/>
<line x1="1317.0" y1="345.5" x2="1326.6" y2="345.5"/>
<line x1="1317.0" y1="355.0" x2="1326.6" y2="355.0"/>
<line x1="1354.0" y1="214.5" x2="1363.6" y2="214.5"/>
<line x1="1354.0" y1="224.0" x2="1363.6" y2="224.0"/>
<line x1="1354.0" y1="233.5" x2="1363.6" y2="233.5"/>
<line x1="1354.0" y1="243.0" x2="1363.6" y2="243.0"/>
<line x1="1354.0" y1="252.5" x2="1363.6" y2="252.5"/>
<line x1="1354.0" y1="262.0" x2="1363.6" y2="262.0"/>
<line x1="1354.0" y1="271.5" x2="1363.6" y2="271.5"/>
<line x1="1354.0" y1="281.0" x2="1363.6" y2="281.0"/>
<line x1="1354.0" y1="290.5" x2="1363.6" y2="290.5"/>
<line x1="1354.0" y1="300.0" x2="1363.6" y2="300.0"/>
<line x1="1354.0" y1="309.5" x2="1363.6" y2="309.5"/>
<line x1="1354.0" y1="319.0" x2="1363.6" y2="319.0"/>
<line x1="1354.0" y1="328.5" x2="1363.6" y2="328.5"/>
<line x1="1354.0" y1="338.0" x2="1363.6" y2="338.0"/>
<line x1="1354.0" y1="347.5" x2="1363.6" y2="347.5"/>
<line x1="1390.7" y1="223.0" x2="1400.3" y2="223.0"/>
<line x1="1390.7" y1="232.5" x2="1400.3" y2="232.5"/>
<line x1="1390.7" y1="242.0" x2="1400.3" y2="242.0"/>
<line x1="1390.7" y1="251.5" x2="1400.3" y2="251.5"/>
<line x1="1390.7" y1="261.0" x2="1400.3" y2="261.0"/>
<line x1="1390.7" y1="270.5" x2="1400.3" y2="270.5"/>
<line x1="1390.7" y1="280.0" x2="1400.3" y2="280.0"/>
<line x1="1390.7" y1="289.5" x2="1400.3" y2="289.5"/>
<line x1="1390.7" y1="299.0" x2="1400.3" y2="299.0"/>
<line x1="1390.7" y1="308.5" x2="1400.3" y2="308.5"/>
</g>
<line x1="1303" y1="232" x2="1577" y2="106.9" stroke="#0b0b0b" stroke-width="3.2" stroke-linecap="butt"/>
<line x1="1303" y1="302" x2="1577" y2="114.1" stroke="#0b0b0b" stroke-width="3.2" stroke-linecap="butt"/>
<rect x="1575.0" y="108.5" width="10.0" height="11.0" fill="#1f5cae"/>
<ellipse cx="1579.7" cy="103.0" rx="5" ry="5.6" fill="#55ad4a" stroke="#3b8f38" stroke-width="1"/>
<g class="tk">
<text x="1246.4" y="408" text-anchor="middle">-0.2</text>
<text x="1303.0" y="408" text-anchor="middle">0</text>
<text x="1358.6" y="408" text-anchor="middle">0.2</text>
<text x="1414.2" y="408" text-anchor="middle">0.4</text>
<text x="1469.8" y="408" text-anchor="middle">0.6</text>
<text x="1525.4" y="408" text-anchor="middle">0.8</text>
<text x="1581.0" y="408" text-anchor="middle">1.0</text>
<text x="1234.8" y="385.5" text-anchor="end">-0.8</text>
<text x="1234.8" y="352.1" text-anchor="end">-0.6</text>
<text x="1234.8" y="318.6" text-anchor="end">-0.4</text>
<text x="1234.8" y="285.2" text-anchor="end">-0.2</text>
<text x="1234.8" y="251.7" text-anchor="end">0</text>
<text x="1234.8" y="218.2" text-anchor="end">0.2</text>
<text x="1234.8" y="184.8" text-anchor="end">0.4</text>
<text x="1234.8" y="151.3" text-anchor="end">0.6</text>
<text x="1234.8" y="117.9" text-anchor="end">0.8</text>
</g>
<text x="1248" y="65" style="font-size:22px;font-weight:bold">c</text>
<text class="cj" x="1414.5" y="441.5" text-anchor="middle">相关系数</text>
<ellipse cx="1649.2" cy="85.6" rx="5.3" ry="6" fill="#55ad4a" stroke="#3b8f38" stroke-width="1"/>
<rect x="1643.7" y="104.5" width="10" height="10.5" fill="#1f5cae"/>
<text x="1657.5" y="94.2" style="font-size:23px;font-style:italic">R<tspan dy="-8" style="font-size:14px;font-style:normal">2</tspan></text>
<text x="1657.5" y="118.2" style="font-size:23px;font-style:italic">Q<tspan dy="-8" style="font-size:14px;font-style:normal">2</tspan></text>
</g>
<clipPath id="cd"><rect x="1686" y="0" width="483" height="447.6"/></clipPath><g clip-path="url(#cd)">
<rect x="1779.3" y="67.4" width="21.0" height="271.8" fill="#80c9a8" stroke="#111" stroke-width="2"/>
<rect x="1805.3" y="116.0" width="21.0" height="223.2" fill="#80c9a8" stroke="#111" stroke-width="2"/>
<rect x="1831.3" y="129.4" width="21.0" height="209.8" fill="#80c9a8" stroke="#111" stroke-width="2"/>
<rect x="1857.3" y="139.5" width="21.0" height="199.7" fill="#80c9a8" stroke="#111" stroke-width="2"/>
<rect x="1883.3" y="154.6" width="21.0" height="184.6" fill="#80c9a8" stroke="#111" stroke-width="2"/>
<rect x="1909.3" y="164.7" width="21.0" height="174.5" fill="#80c9a8" stroke="#111" stroke-width="2"/>
<rect x="1935.3" y="166.4" width="21.0" height="172.8" fill="#80c9a8" stroke="#111" stroke-width="2"/>
<rect x="1961.3" y="171.4" width="21.0" height="167.8" fill="#80c9a8" stroke="#111" stroke-width="2"/>
<rect x="1987.3" y="193.2" width="21.0" height="146.0" fill="#187fba" stroke="#111" stroke-width="2"/>
<rect x="2013.3" y="196.6" width="21.0" height="142.6" fill="#187fba" stroke="#111" stroke-width="2"/>
<rect x="2039.3" y="206.6" width="21.0" height="132.6" fill="#187fba" stroke="#111" stroke-width="2"/>
<rect x="2065.3" y="211.7" width="21.0" height="127.5" fill="#187fba" stroke="#111" stroke-width="2"/>
<rect x="2091.3" y="225.1" width="21.0" height="114.1" fill="#187fba" stroke="#111" stroke-width="2"/>
<rect x="2117.3" y="293.9" width="21.0" height="45.3" fill="#187fba" stroke="#111" stroke-width="2"/>
<rect x="2143.3" y="297.2" width="21.0" height="41.9" fill="#187fba" stroke="#111" stroke-width="2"/>
<rect x="1983.3" y="194.2" width="3.0" height="144.0" fill="#d8d4cf"/>
<rect x="2009.3" y="197.6" width="3.0" height="140.6" fill="#d8d4cf"/>
<rect x="2035.3" y="207.6" width="3.0" height="130.6" fill="#d8d4cf"/>
<rect x="2061.3" y="212.7" width="3.0" height="125.5" fill="#d8d4cf"/>
<rect x="2087.3" y="226.1" width="3.0" height="112.1" fill="#d8d4cf"/>
<rect x="2113.3" y="294.9" width="3.0" height="43.3" fill="#d8d4cf"/>
<rect x="2139.3" y="298.2" width="3.0" height="39.9" fill="#d8d4cf"/>
<g class="vl">
<text x="1781.0" y="62.5" textLength="25.5" lengthAdjust="spacingAndGlyphs">1.62</text>
<text x="1807.0" y="110.5" textLength="25.5" lengthAdjust="spacingAndGlyphs">1.33</text>
<text x="1833.0" y="123.8" textLength="25.5" lengthAdjust="spacingAndGlyphs">1.25</text>
<text x="1859.5" y="133.8" textLength="25.5" lengthAdjust="spacingAndGlyphs">1.19</text>
<text x="1882.5" y="148.8" textLength="25.5" lengthAdjust="spacingAndGlyphs">1.10</text>
<text x="1908.8" y="158.0" textLength="25.5" lengthAdjust="spacingAndGlyphs">1.04</text>
<text x="1937.0" y="160.0" textLength="25.5" lengthAdjust="spacingAndGlyphs">1.03</text>
<text x="1962.5" y="165.5" textLength="25.5" lengthAdjust="spacingAndGlyphs">1.00</text>
<text x="1987.5" y="187.5" textLength="25.5" lengthAdjust="spacingAndGlyphs">0.87</text>
<text x="2013.8" y="191.3" textLength="25.5" lengthAdjust="spacingAndGlyphs">0.85</text>
<text x="2038.8" y="201.3" textLength="25.5" lengthAdjust="spacingAndGlyphs">0.79</text>
<text x="2065.0" y="206.3" textLength="25.5" lengthAdjust="spacingAndGlyphs">0.76</text>
<text x="2088.0" y="219.5" textLength="25.5" lengthAdjust="spacingAndGlyphs">0.68</text>
<text x="2115.0" y="288.0" textLength="25.5" lengthAdjust="spacingAndGlyphs">0.27</text>
<text x="2142.5" y="291.3" textLength="25.5" lengthAdjust="spacingAndGlyphs">0.25</text>
</g>
<line x1="1777.7" y1="37" x2="1777.7" y2="340" stroke="#111" stroke-width="2.2"/>
<line x1="1777" y1="339" x2="2167" y2="339" stroke="#111" stroke-width="2.4"/>
<path d="M1789.8 339v-4.5M1815.8 339v-4.5M1841.8 339v-4.5M1867.8 339v-4.5M1893.8 339v-4.5M1919.8 339v-4.5M1945.8 339v-4.5M1971.8 339v-4.5M1997.8 339v-4.5M2023.8 339v-4.5M2049.8 339v-4.5M2075.8 339v-4.5M2101.8 339v-4.5M2127.8 339v-4.5M2153.8 339v-4.5" stroke="#111" stroke-width="1.6"/>
<g style="font-size:24px">
<text x="1765" y="346.5" text-anchor="end">0</text>
<text x="1765" y="263.4" text-anchor="end">0.50</text>
<text x="1765" y="179.5" text-anchor="end">1.00</text>
<text x="1765" y="95.6" text-anchor="end">1.50</text>
</g>
<text x="1778.3" y="29.4" style="font-size:24px">d</text>
<g transform="translate(1708.3 245.3) rotate(-90)"><text x="0" y="0" style="font-size:23.6px">VIP</text></g>
<text transform="translate(1708.8 207) rotate(-90)" x="0" y="0" style="font-size:23.6px">值</text>
<text class="cj" transform="translate(1798.2 422.9) rotate(-90)" x="0" y="0">精氨酸</text>
<text class="cj" transform="translate(1824.2 422.9) rotate(-90)" x="0" y="0">丙氨酸</text>
<text class="cj" transform="translate(1850.2 422.9) rotate(-90)" x="0" y="0">亮氨酸</text>
<text class="cj" transform="translate(1876.2 446.6) rotate(-90)" x="0" y="0">苯丙氨酸</text>
<text class="cj" transform="translate(1902.2 422.9) rotate(-90)" x="0" y="0">缬氨酸</text>
<text class="cj" transform="translate(1928.2 446.6) rotate(-90)" x="0" y="0">异亮氨酸</text>
<text class="cj" transform="translate(1954.2 422.9) rotate(-90)" x="0" y="0">丝氨酸</text>
<text class="cj" transform="translate(1980.2 422.9) rotate(-90)" x="0" y="0">酪氨酸</text>
<text class="cj" transform="translate(2006.2 422.9) rotate(-90)" x="0" y="0">谷氨酸</text>
<text class="cj" transform="translate(2032.2 422.9) rotate(-90)" x="0" y="0">甘氨酸</text>
<text class="cj" transform="translate(2058.2 422.9) rotate(-90)" x="0" y="0">苏氨酸</text>
<text class="cj" transform="translate(2084.2 422.9) rotate(-90)" x="0" y="0">蛋氨酸</text>
<text class="cj" transform="translate(2110.2 446.6) rotate(-90)" x="0" y="0">天冬氨酸</text>
<text class="cj" transform="translate(2136.2 422.9) rotate(-90)" x="0" y="0">组氨酸</text>
<text class="cj" transform="translate(2162.2 422.9) rotate(-90)" x="0" y="0">赖氨酸</text>
</g>
</svg></body></html>
